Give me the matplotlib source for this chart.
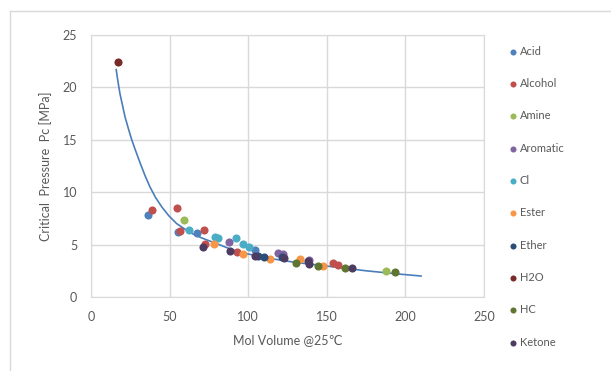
import matplotlib
matplotlib.use("Agg")
from matplotlib import pyplot as plt
from matplotlib.lines import Line2D

plt.rcParams['font.family'] = ['Lato', 'DejaVu Sans']

# scatter data: (mol volume, critical pressure)
acid_x = [36.5, 55.5, 67.4, 104.3]
acid_y = [7.8, 6.2, 6.08, 4.5]
alcohol_x = [38.6, 54.5, 56.6, 71.9, 72.5, 92.7, 154, 157.4]
alcohol_y = [8.3, 8.5, 6.3, 6.4, 5.1, 4.3, 3.2, 3.05]
amine_x = [59.2, 188]
amine_y = [7.35, 2.5]
aromatic_x = [88, 119.2, 122, 138.5]
aromatic_y = [5.28, 4.17, 4.1, 3.5]
cl_x = [62.5, 78.9, 81, 92.2, 96.9, 100.5]
cl_y = [6.4, 5.75, 5.6, 5.6, 5.06, 4.8]
ester_x = [78.2, 96.5, 113.9, 133, 147.4]
ester_y = [5.06, 4.1, 3.6, 3.6, 3.0]
ether_x = [106.4, 121.3, 110]
ether_y = [3.9, 3.8, 3.85]
h2o_x = [17.4]
h2o_y = [22.4]
hc_x = [130.4, 144.6, 161.6, 193.4]
hc_y = [3.27, 3.0, 2.75, 2.35]
ketone_x = [71.5, 88.4, 104.3, 122.5, 138.2, 139, 166]
ketone_y = [4.8, 4.42, 3.9, 3.7, 3.46, 3.1, 2.8]

# trend line
trend_x = [16, 17.2, 18.4, 20, 21.6, 23.7, 25.9, 28.5, 31.2, 34.3, 37.5, 41, 45, 49.5, 54.5,
           60, 65, 71, 78, 90, 100, 115, 130, 150, 175, 195, 210]
trend_y = [21.7, 20.5, 19.4, 18.3, 17.2, 16.1, 15.0, 13.9, 12.8, 11.6, 10.5, 9.5, 8.6, 7.75, 7.0,
           6.45, 6.0, 5.6, 5.2, 4.5, 4.1, 3.65, 3.3, 2.95, 2.5, 2.2, 2.0]

series = [
    ('Acid', acid_x, acid_y, '#4F81BD'),
    ('Alcohol', alcohol_x, alcohol_y, '#C0504D'),
    ('Amine', amine_x, amine_y, '#9BBB59'),
    ('Aromatic', aromatic_x, aromatic_y, '#8064A2'),
    ('Cl', cl_x, cl_y, '#4BACC6'),
    ('Ester', ester_x, ester_y, '#F79646'),
    ('Ether', ether_x, ether_y, '#2C4D75'),
    ('H2O', h2o_x, h2o_y, '#772C2A'),
    ('HC', hc_x, hc_y, '#5F7530'),
    ('Ketone', ketone_x, ketone_y, '#4D3B62'),
]

fig = plt.figure(figsize=(6.11, 3.71), dpi=100)
ax = fig.add_axes([0.149, 0.1995, 0.643, 0.7062])

grey = '#D9D9D9'
txt = '#595959'

ax.plot(trend_x, trend_y, color='#4A7EBB', lw=1.2, zorder=2)
for name, xs, ys, c in series:
    ax.scatter(xs, ys, s=34, color=c, label=name, zorder=3, linewidths=0)

ax.set_xlim(0, 250)
ax.set_ylim(0, 25)
ax.set_xticks([0, 50, 100, 150, 200, 250])
ax.set_yticks([0, 5, 10, 15, 20, 25])
ax.grid(True, color=grey, lw=1)
ax.set_axisbelow(True)
for s in ax.spines.values():
    s.set_color(grey)
ax.tick_params(length=0, colors=txt, labelsize=9, pad=10)

ax.set_xlabel('Mol Volume @25℃', color=txt, fontsize=9, labelpad=8)
ax.set_ylabel('Critical  Pressure  Pc [MPa]', color=txt, fontsize=9, labelpad=8)

leg = ax.legend(loc='upper left', bbox_to_anchor=(1.035, 0.998), frameon=False,
                fontsize=8, labelspacing=1.92, handletextpad=0.1,
                handlelength=1.0, markerscale=0.75)
for t in leg.get_texts():
    t.set_color(txt)

# outer chart frame
fig.add_artist(Line2D([10 / 611, 10 / 611], [0, 1 - 11 / 371], color=grey, lw=1))
fig.add_artist(Line2D([10 / 611, 1], [1 - 11 / 371, 1 - 11 / 371], color=grey, lw=1))

fig.savefig('out.png', dpi=100)
